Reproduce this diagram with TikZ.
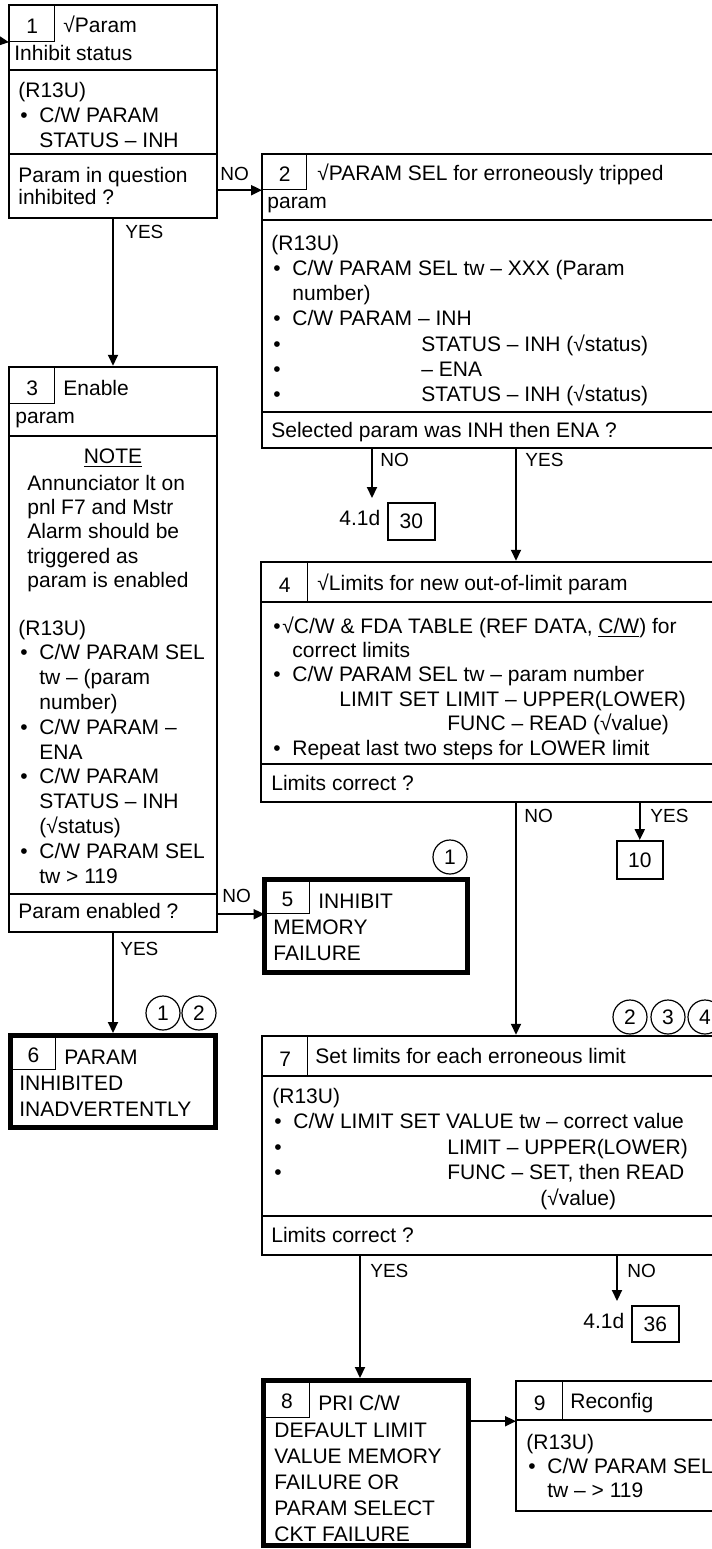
\documentclass[tikz,border=0pt]{standalone}
\usepackage{fontspec}
\setmainfont{Liberation Sans}
\usetikzlibrary{arrows.meta,fit}

\newcommand{\bl}{\makebox[10.5pt][l]{\hspace{1pt}•}}
\newcommand{\ind}{\hspace*{10.5pt}}
\newcommand{\bultab}[1]{\makebox[#1][l]{\hspace{1pt}•}}
\newcommand{\rows}[1]{\begin{tabular}[t]{@{}l@{}}#1\end{tabular}}

\tikzset{
  box/.style={draw, line width=1.25pt, inner sep=0pt},
  failbox/.style={draw, line width=2.5pt, inner sep=0pt},
  numbox/.style={draw, line width=0.6pt, inner sep=0pt, anchor=north west, text height=9.5pt, text depth=0pt},
  gobox/.style={draw, line width=0.8pt, inner sep=0pt, anchor=north west},
  rule/.style={line width=1.25pt},
  txt/.style={anchor=base west, inner sep=0pt},
  lbl/.style={anchor=base west, inner sep=0pt, font=\fontsize{9.5}{11}\selectfont},
  refno/.style={circle, draw, line width=0.6pt, minimum size=17pt, inner sep=0pt},
  flow/.style={-{Triangle[length=5.5pt,width=5pt]}, line width=1pt},
}

\begin{document}
\begin{tikzpicture}[x=0.5pt, y=-0.5pt, font=\fontsize{10.5}{12.5}\selectfont]
    \useasboundingbox (0,0) rectangle (712,1549);
    % 1 Param inhibit status
    \node[box, fit={(9,5) (217,218)}] (b1) {};
    \node[numbox, minimum width=22.5pt, minimum height=18pt] (n1) at (9,5) {1};
    \draw[rule] (9,70) -- (217,70) (9,154) -- (217,154);
    \node[txt] (h1) at (63,32) {√Param};
    \node[txt] (h1b) at (14,60) {Inhibit status};
    \node[txt] (s1) at (18,97) {\rows{(R13U)\\\bl C/W PARAM\\\ind STATUS – INH}};
    \node[txt] (q1) at (18,182) {\rows{Param in question\\[-1.5pt]inhibited ?}};
    % 2 Param sel
    \node[box, fit={(262,154) (780,448)}] (b2) {};
    \node[numbox, minimum width=22pt, minimum height=17.5pt] (n2) at (262,154) {2};
    \draw[rule] (262,220) -- (780,220) (262,412) -- (780,412);
    \node[txt] (h2) at (317,180) {√PARAM SEL for erroneously tripped};
    \node[txt] (h2b) at (267,208) {param};
    \node[txt, font=\fontsize{10.5}{12.65}\selectfont] (s2) at (271,250) {\rows{(R13U)\\\bl C/W PARAM SEL tw – XXX (Param\\\ind number)\\\bl C/W PARAM – INH\\\bultab{75pt}STATUS – INH (√status)\\\bultab{75pt}– ENA\\\bultab{75pt}STATUS – INH (√status)}};
    \node[txt] (q2) at (271,437) {Selected param was INH then ENA ?};
    % 3 Enable param
    \node[box, fit={(9,367) (217,932)}] (b3) {};
    \node[numbox, minimum width=22.5pt, minimum height=18pt] (n3) at (9,367) {3};
    \draw[rule] (9,436) -- (217,436) (9,894) -- (217,894);
    \node[txt] (h3) at (63,395) {Enable};
    \node[txt] (h3b) at (15,423) {param};
    \node[anchor=base, inner sep=0pt] (note3) at (113,463) {\underline{NOTE}};
    \node[txt, font=\fontsize{10.5}{12.2}\selectfont] (nt3) at (27,490) {\rows{Annunciator lt on\\pnl F7 and Mstr\\Alarm should be\\triggered as\\param is enabled}};
    \node[txt, font=\fontsize{10.5}{12.4}\selectfont] (s3) at (18,635) {\rows{(R13U)\\\bl C/W PARAM SEL\\\ind tw – (param\\\ind number)\\\bl C/W PARAM –\\\ind ENA\\\bl C/W PARAM\\\ind STATUS – INH\\\ind (√status)\\\bl C/W PARAM SEL\\\ind tw > 119}};
    \node[txt] (q3) at (18,918) {Param enabled ?};
    % 4 Limits
    \node[box, fit={(261,562) (780,802)}] (b4) {};
    \node[numbox, minimum width=23pt, minimum height=20pt] (n4) at (261,562) {4};
    \draw[rule] (261,602) -- (780,602) (261,764) -- (780,764);
    \node[txt] (h4) at (317,590) {√Limits for new out-of-limit param};
    \node[txt, font=\fontsize{10.5}{12.2}\selectfont] (s4) at (271,633) {\rows{\makebox[5.5pt][l]{\hspace{1pt}•}√C/W \& FDA TABLE (REF DATA, \underline{C/W}) for\\\ind correct limits\\\bl C/W PARAM SEL tw – param number\\\hspace*{34pt}LIMIT SET LIMIT – UPPER(LOWER)\\\hspace*{88pt}FUNC – READ (√value)\\\bl Repeat last two steps for LOWER limit}};
    \node[txt] (q4) at (271,790) {Limits correct ?};
    % 5 Inhibit memory failure
    \node[failbox, fit={(264.5,879.5) (467.5,972.5)}] (b5) {};
    \node[numbox, minimum width=22.25pt, minimum height=16.75pt] (n5) at (264.5,879.5) {5};
    \node[txt] (h5) at (318,908) {INHIBIT};
    \node[txt, font=\fontsize{10.5}{13}\selectfont] (h5b) at (273,934) {\rows{MEMORY\\FAILURE}};
    % 6 Param inhibited inadvertently
    \node[failbox, fit={(10.5,1035.5) (215.5,1127.5)}] (b6) {};
    \node[numbox, minimum width=22.25pt, minimum height=16.75pt] (n6) at (10.5,1035.5) {6};
    \node[txt] (h6) at (64,1064) {PARAM};
    \node[txt, font=\fontsize{10.5}{13}\selectfont] (h6b) at (19,1090) {\rows{INHIBITED\\INADVERTENTLY}};
    % 7 Set limits
    \node[box, fit={(262,1036) (780,1255)}] (b7) {};
    \node[numbox, minimum width=22.5pt, minimum height=20pt] (n7) at (262,1036) {7};
    \draw[rule] (262,1076) -- (780,1076) (262,1216) -- (780,1216);
    \node[txt] (h7) at (315,1063) {Set limits for each erroneous limit};
    \node[txt, font=\fontsize{10.5}{12.75}\selectfont] (s7) at (272,1103) {\rows{(R13U)\\\bl C/W LIMIT SET VALUE tw – correct value\\\bultab{87.5pt}LIMIT – UPPER(LOWER)\\\bultab{87.5pt}FUNC – SET, then READ\\\hspace*{134pt}(√value)}};
    \node[txt] (q7) at (271,1242) {Limits correct ?};
    % 8 Default limit failure
    \node[failbox, fit={(263.5,1380.5) (468.5,1545)}] (b8) {};
    \node[numbox, minimum width=22.75pt, minimum height=18.25pt] (n8) at (263.5,1380.5) {8};
    \node[txt] (h8) at (318,1410) {PRI C/W};
    \node[txt, font=\fontsize{10.5}{13}\selectfont] (h8b) at (274,1437) {\rows{DEFAULT LIMIT\\VALUE MEMORY\\FAILURE OR\\PARAM SELECT\\CKT FAILURE}};
    % 9 Reconfig
    \node[box, fit={(516,1381) (780,1511)}] (b9) {};
    \node[numbox, minimum width=23pt, minimum height=19.5pt] (n9) at (516,1381) {9};
    \draw[rule] (516,1420) -- (780,1420);
    \node[txt] (h9) at (570,1408) {Reconfig};
    \node[txt, font=\fontsize{10.5}{12.2}\selectfont] (s9) at (526,1449) {\rows{(R13U)\\\bl C/W PARAM SEL\\\ind tw – > 119}};
    % Go-to blocks
    \node[gobox, minimum width=23.5pt, minimum height=18.5pt] (g30) at (387,502) {30};
    \node[txt] (d30) at (339,525) {4.1d};
    \node[gobox, minimum width=23pt, minimum height=19pt] (g10) at (616,840) {10};
    \node[gobox, minimum width=23.5pt, minimum height=18pt] (g36) at (631,1305) {36};
    \node[txt] (d36) at (583,1328) {4.1d};
    % Note references
    \node[refno] (r5a) at (450,857) {1};
    \node[refno] (r6a) at (163,1013) {1};
    \node[refno] (r6b) at (199,1013) {2};
    \node[refno] (r7a) at (630,1017) {2};
    \node[refno] (r7b) at (668,1017) {3};
    \node[refno] (r7c) at (705,1017) {4};
    % Branch lines
    \coordinate (in1) at (0,41);
    \coordinate (x2no) at (372,0);
    \coordinate (x2yes) at (516,0);
    \coordinate (x7yes) at (360,0);
    \coordinate (x7no) at (617,0);
    \draw[flow] (in1) -- (n1.south west);
    \draw[flow] (b1.east |- n2.south west) -- (n2.south west);
    \draw[flow] (b1.south) -- (b3.north);
    \draw[flow, shorten >=2pt] (b2.south -| x2no) -- (x2no |- g30.north);
    \draw[flow] (b2.south -| x2yes) -- (b4.north -| x2yes);
    \draw[flow] (b4.south -| x2yes) -- (b7.north -| x2yes);
    \draw[flow] (b4.south -| g10.north) -- (g10.north);
    \draw[flow] (b3.east |- n5.south west) -- (n5.south west);
    \draw[flow] (b3.south) -- (b6.north);
    \draw[flow] (b7.south -| x7yes) -- (b8.north -| x7yes);
    \draw[flow, shorten >=2pt] (b7.south -| x7no) -- (x7no |- g36.north);
    \draw[flow] (b8.east |- n9.south west) -- (n9.south west);
    % Labels
    \node[lbl] (l1no) at (220,180) {NO};
    \node[lbl] (l1yes) at (125,238) {YES};
    \node[lbl] (l2no) at (380,466) {NO};
    \node[lbl] (l2yes) at (525,466) {YES};
    \node[lbl] (l4no) at (524,822) {NO};
    \node[lbl] (l4yes) at (650,822) {YES};
    \node[lbl] (l3no) at (222,902) {NO};
    \node[lbl] (l3yes) at (120,955) {YES};
    \node[lbl] (l7yes) at (370,1277) {YES};
    \node[lbl] (l7no) at (627,1277) {NO};
\end{tikzpicture}
\end{document}
